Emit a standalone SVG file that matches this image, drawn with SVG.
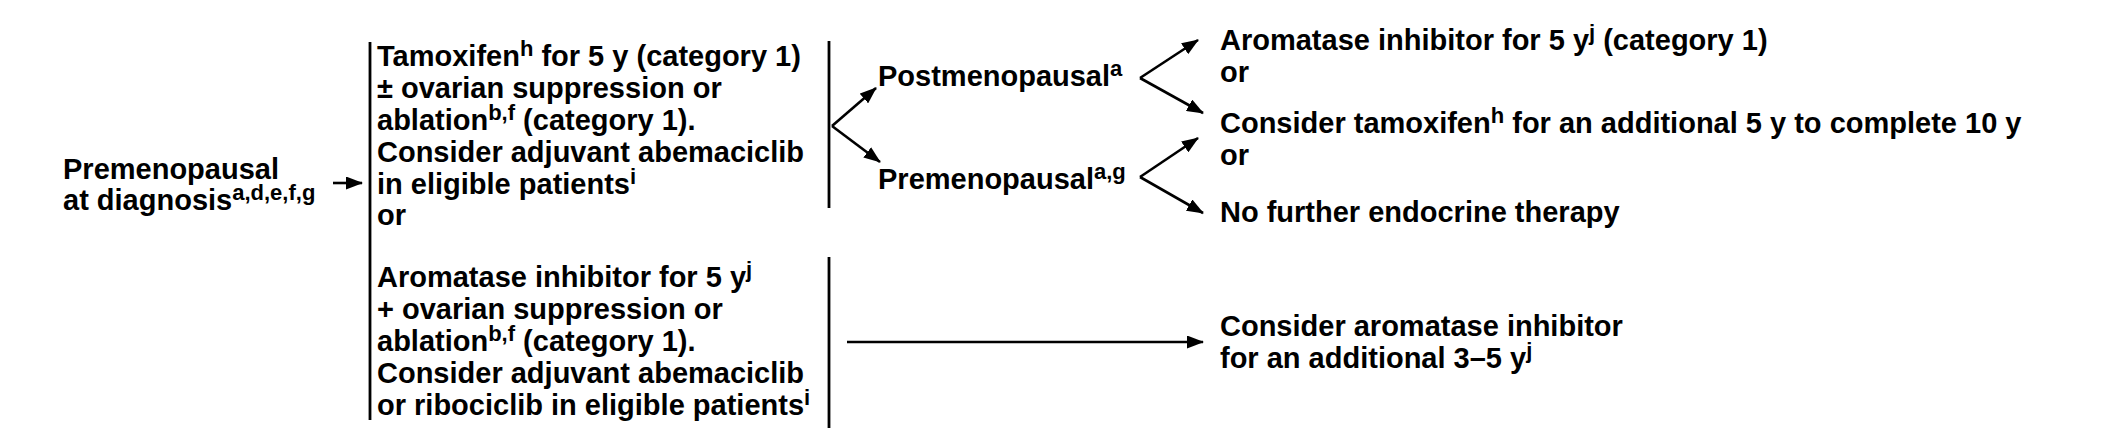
<svg xmlns="http://www.w3.org/2000/svg" width="2103" height="443" viewBox="0 0 2103 443">
<defs>
<style>
text{font-family:"Liberation Sans",Arial,sans-serif;font-weight:bold;font-size:29px;fill:#000}
.sup{font-size:22px}
.bar{stroke:#000;stroke-width:2.8;fill:none}
.con{stroke:#000;stroke-width:2.6;fill:none;marker-end:url(#ah)}
</style>
<marker id="ah" viewBox="0 0 17 13" markerWidth="17" markerHeight="13" refX="16" refY="6.5" orient="auto" markerUnits="userSpaceOnUse">
<path d="M0,0 L17,6.5 L0,13 Z" fill="#000"/>
</marker>
</defs>
<rect width="2103" height="443" fill="#fff"/>

<g id="premenopausal-at-diagnosis">
<text x="63" y="179">Premenopausal</text>
<text x="63" y="210">at diagnosis<tspan class="sup" dy="-10">a,d,e,f,g</tspan></text>
</g>

<g id="tamoxifen-option">
<line class="bar" x1="370" y1="42" x2="370" y2="420"/>
<text x="377" y="66">Tamoxifen<tspan class="sup" dy="-10">h</tspan><tspan dy="10"> for 5 y (category 1)</tspan></text>
<text x="377" y="98">± ovarian suppression or</text>
<text x="377" y="130">ablation<tspan class="sup" dy="-10">b,f</tspan><tspan dy="10"> (category 1).</tspan></text>
<text x="377" y="162">Consider adjuvant abemaciclib</text>
<text x="377" y="194">in eligible patients<tspan class="sup" dy="-10">i</tspan></text>
<text x="377" y="225">or</text>
<line class="bar" x1="829" y1="41" x2="829" y2="208"/>
</g>

<g id="aromatase-option">
<text x="377" y="287">Aromatase inhibitor for 5 y<tspan class="sup" dy="-10">j</tspan></text>
<text x="377" y="319">+ ovarian suppression or</text>
<text x="377" y="351">ablation<tspan class="sup" dy="-10">b,f</tspan><tspan dy="10"> (category 1).</tspan></text>
<text x="377" y="383">Consider adjuvant abemaciclib</text>
<text x="377" y="415">or ribociclib in eligible patients<tspan class="sup" dy="-10">i</tspan></text>
<line class="bar" x1="829" y1="257" x2="829" y2="428"/>
</g>

<g id="postmenopausal">
<text x="878" y="86">Postmenopausal<tspan class="sup" dy="-10">a</tspan></text>
</g>

<g id="premenopausal">
<text x="878" y="189">Premenopausal<tspan class="sup" dy="-10">a,g</tspan></text>
</g>

<g id="aromatase-5y">
<text x="1220" y="50">Aromatase inhibitor for 5 y<tspan class="sup" dy="-10">j</tspan><tspan dy="10"> (category 1)</tspan></text>
<text x="1220" y="82">or</text>
</g>

<g id="consider-tamoxifen">
<text x="1220" y="133">Consider tamoxifen<tspan class="sup" dy="-10">h</tspan><tspan dy="10"> for an additional 5 y to complete 10 y</tspan></text>
<text x="1220" y="165">or</text>
</g>

<g id="no-further-therapy">
<text x="1220" y="222">No further endocrine therapy</text>
</g>

<g id="consider-aromatase">
<text x="1220" y="336">Consider aromatase inhibitor</text>
<text x="1220" y="368">for an additional 3–5 y<tspan class="sup" dy="-10">j</tspan></text>
</g>

<g id="connectors">
<line class="con" x1="333" y1="183" x2="362" y2="183"/>
<line class="con" x1="832" y1="126" x2="876" y2="88"/>
<line class="con" x1="832" y1="126" x2="880" y2="162"/>
<line class="con" x1="1140" y1="78" x2="1198" y2="40"/>
<line class="con" x1="1140" y1="78" x2="1203" y2="113"/>
<line class="con" x1="1140" y1="177" x2="1198" y2="138"/>
<line class="con" x1="1140" y1="177" x2="1203" y2="213"/>
<line class="con" x1="847" y1="342" x2="1203" y2="342"/>
</g>
</svg>
